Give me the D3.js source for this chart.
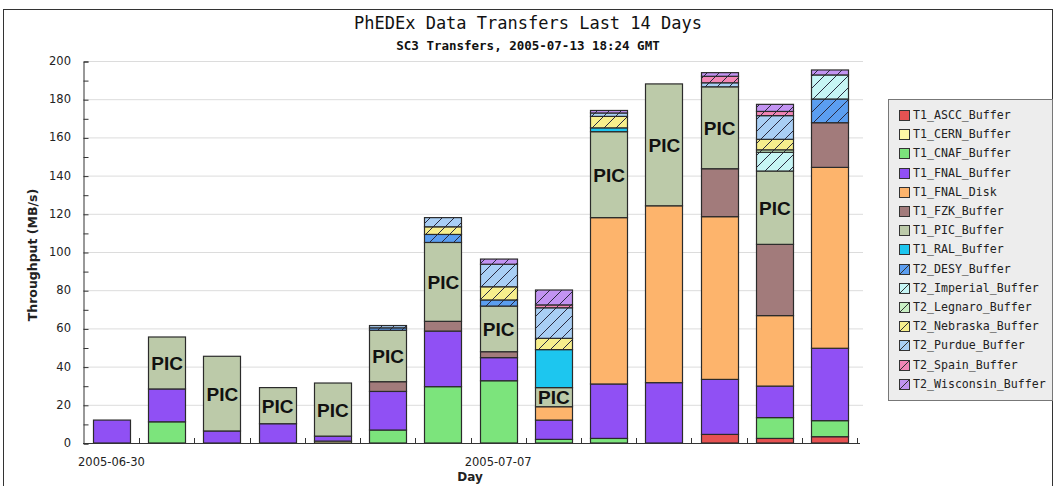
<!DOCTYPE html>
<html>
<head>
<meta charset="utf-8">
<script src="https://cdn.jsdelivr.net/npm/d3@7"></script>
<style>
  body { margin: 0; background: #fff; }
  svg { display: block; }
</style>
</head>
<body>
<svg id="chart"></svg>
<script>
// days shown on the x axis (one bar per day)
const days = ["2005-06-30", "2005-07-01", "2005-07-02", "2005-07-03", "2005-07-04", "2005-07-05", "2005-07-06",
    "2005-07-07", "2005-07-08", "2005-07-09", "2005-07-10", "2005-07-11", "2005-07-12", "2005-07-13"];
const dayLabels = ["2005-06-30", "2005-07-07"];

// throughput per node (MB/s), stacked bottom to top in this order
const nodes = ["T1_ASCC_Buffer", "T1_CERN_Buffer", "T1_CNAF_Buffer", "T1_FNAL_Buffer", "T1_FNAL_Disk",
    "T1_FZK_Buffer", "T1_PIC_Buffer", "T1_RAL_Buffer", "T2_DESY_Buffer", "T2_Imperial_Buffer",
    "T2_Legnaro_Buffer", "T2_Nebraska_Buffer", "T2_Purdue_Buffer", "T2_Spain_Buffer", "T2_Wisconsin_Buffer"];

const asccBuffer      = [0, 0, 0, 0, 0, 0, 0, 0, 0, 0, 0, 4.5, 2.4, 3.3];
const cernBuffer      = [0, 0, 0, 0, 1.0, 0, 0, 0, 0, 0, 0, 0, 0, 0];
const cnafBuffer      = [0, 11.1, 0, 0, 0, 6.8, 29.5, 32.6, 1.9, 2.4, 0, 0, 10.9, 8.4];
const fnalBuffer      = [12, 17.2, 6.3, 10.1, 2.6, 20.2, 29.1, 12.1, 10.1, 28.5, 31.6, 28.8, 16.5, 37.9];
const fnalDisk        = [0, 0, 0, 0, 0, 0, 0, 0, 7, 87.1, 92.6, 85.2, 36.9, 94.7];
const fzkBuffer       = [0, 0, 0, 0, 0, 5.1, 5.1, 3.1, 0, 0, 0, 25.1, 37.3, 23.4];
const picBuffer       = [0, 27.2, 39.1, 18.9, 27.8, 26.9, 41.3, 23.9, 10, 45, 63.8, 42.9, 38.4, 0];
const ralBuffer       = [0, 0, 0, 0, 0, 0, 0, 0, 19.9, 2, 0, 0, 0, 0];
const desyBuffer      = [0, 0, 0, 0, 0, 1.3, 4.2, 3.2, 0, 0, 0, 0, 0, 12.4];
const imperialBuffer  = [0, 0, 0, 0, 0, 0, 0, 0, 0, 0, 0, 0, 9.8, 12.6];
const legnaroBuffer   = [0, 0, 0, 0, 0, 0, 0, 0, 0, 0, 0, 0, 1.3, 0];
const nebraskaBuffer  = [0, 0, 0, 0, 0, 0, 4, 6.9, 5.9, 6, 0, 0, 5.5, 0];
const purdueBuffer    = [0, 0, 0, 0, 0, 1.2, 4.8, 11.8, 16, 1.8, 0, 2.1, 12.4, 0];
const spainBuffer     = [0, 0, 0, 0, 0, 0, 0, 0, 1.5, 0, 0, 3.4, 2.2, 0];
const wisconsinBuffer = [0, 0, 0, 0, 0, 0, 0, 2.7, 7.8, 1.3, 0, 1.9, 3.7, 2.6];

const seriesValues = [asccBuffer, cernBuffer, cnafBuffer, fnalBuffer, fnalDisk, fzkBuffer, picBuffer, ralBuffer,
    desyBuffer, imperialBuffer, legnaroBuffer, nebraskaBuffer, purdueBuffer, spainBuffer, wisconsinBuffer];

const yTicks = [0, 20, 40, 60, 80, 100, 120, 140, 160, 180, 200];

const colors = ["#e65252", "#fff8a6", "#7ce47c", "#9050f4", "#fdb46c", "#a27b7b", "#bccaa9", "#1dc6ef",
    "#5b9ef0", "#c6f5f5", "#c9efc4", "#f7ef8c", "#a9cff5", "#f286b5", "#c293f2"];

const W = 1056, H = 486;
const plot = { left: 83, right: 858, top: 61, bottom: 443 };

const svg = d3.select("#chart").attr("width", W).attr("height", H);

// hatch patterns for the T2 sites
const defs = svg.append("defs");
nodes.forEach((n, i) => {
    if (!n.startsWith("T2")) return;
    const p = defs.append("pattern")
        .attr("id", "hatch" + i)
        .attr("patternUnits", "userSpaceOnUse")
        .attr("width", 12).attr("height", 12);
    p.append("rect").attr("width", 12).attr("height", 12).attr("fill", colors[i]);
    p.append("path")
        .attr("d", "M0,12 L12,0 M-3,3 L3,-3 M9,15 L15,9")
        .attr("stroke", "#2a2a40").attr("stroke-width", 1);
});
const fillOf = i => nodes[i].startsWith("T2") ? `url(#hatch${i})` : colors[i];

// outer frame
svg.append("rect")
    .attr("x", 3.5).attr("y", 9.5).attr("width", 1049).attr("height", 490)
    .attr("fill", "none").attr("stroke", "#333");

svg.append("text")
    .attr("x", 528).attr("y", 29)
    .attr("text-anchor", "middle")
    .attr("font-family", "DejaVu Sans Mono")
    .attr("font-size", "17px")
    .attr("fill", "#111")
    .text("PhEDEx Data Transfers Last 14 Days");

svg.append("text")
    .attr("x", 528).attr("y", 50)
    .attr("text-anchor", "middle")
    .attr("font-family", "DejaVu Sans Mono")
    .attr("font-weight", "bold")
    .attr("font-size", "12.5px")
    .attr("fill", "#111")
    .text("SC3 Transfers, 2005-07-13 18:24 GMT");

const x = d3.scaleBand()
    .domain(days)
    .range([plot.left, plot.right])
    .paddingInner(0.33)
    .paddingOuter(0.18);

const y = d3.scaleLinear()
    .domain([0, 200])
    .range([plot.bottom, plot.top]);

// gridlines
svg.append("g")
    .selectAll("line")
    .data(yTicks.filter(t => t > 0))
    .enter()
    .append("line")
    .attr("x1", plot.left).attr("x2", 863)
    .attr("y1", t => y(t) + 0.5).attr("y2", t => y(t) + 0.5)
    .attr("stroke", "#dcdcdc");

// y axis, minor ticks every 10
const yAxis = svg.append("g")
    .attr("transform", `translate(${plot.left + 0.5},0.5)`)
    .call(d3.axisRight(y).tickValues(d3.range(0, 201, 10)).tickSize(5).tickFormat(""));
yAxis.select(".domain").attr("stroke", "#333");
yAxis.selectAll("line").attr("stroke", "#333");

svg.append("g")
    .selectAll("text")
    .data(yTicks)
    .enter()
    .append("text")
    .attr("x", plot.left - 12)
    .attr("y", t => y(t) + 4)
    .attr("text-anchor", "end")
    .attr("font-family", "DejaVu Sans")
    .attr("font-size", "11.5px")
    .attr("fill", "#222")
    .text(t => t);

svg.append("text")
    .attr("transform", `translate(37, 255) rotate(-90)`)
    .attr("text-anchor", "middle")
    .attr("font-family", "DejaVu Sans")
    .attr("font-weight", "bold")
    .attr("font-size", "12.5px")
    .attr("fill", "#222")
    .text("Throughput (MB/s)");

// stacked bars
const table = days.map((d, j) => {
    const row = { day: d };
    nodes.forEach((n, i) => { row[n] = seriesValues[i][j]; });
    return row;
});
const stacked = d3.stack().keys(nodes)(table);

svg.append("g")
    .selectAll("g")
    .data(stacked)
    .enter()
    .append("g")
    .attr("fill", (s, i) => fillOf(i))
    .selectAll("rect")
    .data(s => s.filter(d => d[1] - d[0] > 0))
    .enter()
    .append("rect")
    .attr("x", d => Math.round(x(d.data.day)) + 0.5)
    .attr("width", Math.round(x.bandwidth()))
    .attr("y", d => y(d[1]))
    .attr("height", d => y(d[0]) - y(d[1]))
    .attr("stroke", "#2b2b2b")
    .attr("stroke-width", 1.2);

// PIC labels in the middle of each PIC segment
const picLayer = stacked[nodes.indexOf("T1_PIC_Buffer")];
svg.append("g")
    .selectAll("text")
    .data(picLayer.filter(d => d[1] - d[0] > 0))
    .enter()
    .append("text")
    .attr("x", d => x(d.data.day) + x.bandwidth() / 2 + 0.5)
    .attr("y", d => y((d[0] + d[1]) / 2) + 7)
    .attr("text-anchor", "middle")
    .attr("font-family", "Liberation Sans, Arial, sans-serif")
    .attr("font-weight", "bold")
    .attr("font-size", "19px")
    .attr("fill", "#111")
    .text("PIC");

// x axis with ticks between the days
svg.append("line")
    .attr("x1", plot.left).attr("x2", 860)
    .attr("y1", plot.bottom + 0.5).attr("y2", plot.bottom + 0.5)
    .attr("stroke", "#333");

const step = x.step();
svg.append("g")
    .selectAll("line")
    .data(days)
    .enter()
    .append("line")
    .attr("x1", d => Math.round(x(d) + x.bandwidth() + (step - x.bandwidth()) / 2) + 0.5)
    .attr("x2", d => Math.round(x(d) + x.bandwidth() + (step - x.bandwidth()) / 2) + 0.5)
    .attr("y1", plot.bottom - 5).attr("y2", plot.bottom)
    .attr("stroke", "#333");

svg.append("g")
    .selectAll("text")
    .data(dayLabels)
    .enter()
    .append("text")
    .attr("x", d => x(d) + x.bandwidth() / 2)
    .attr("y", 466)
    .attr("text-anchor", "middle")
    .attr("font-family", "DejaVu Sans")
    .attr("font-size", "11.5px")
    .attr("fill", "#222")
    .text(d => d);

svg.append("text")
    .attr("x", 470).attr("y", 481)
    .attr("text-anchor", "middle")
    .attr("font-family", "DejaVu Sans")
    .attr("font-weight", "bold")
    .attr("font-size", "12px")
    .attr("fill", "#222")
    .text("Day");

// legend
const legend = svg.append("g");
legend.append("rect")
    .attr("x", 888.5).attr("y", 99.5).attr("width", 164).attr("height", 301)
    .attr("fill", "#ededed").attr("stroke", "#777");

const rowY = i => 115 + i * 19.2;
const items = legend.selectAll("g.item")
    .data(nodes)
    .enter()
    .append("g")
    .attr("class", "item");

items.append("rect")
    .attr("x", 899.5).attr("y", (n, i) => Math.round(rowY(i) - 5) + 0.5)
    .attr("width", 10).attr("height", 10)
    .attr("fill", (n, i) => colors[i])
    .attr("stroke", "#333");

items.filter(n => n.startsWith("T2"))
    .append("line")
    .attr("x1", 900).attr("x2", 909)
    .attr("y1", (n, i) => Math.round(rowY(i + 8) - 5) + 10)
    .attr("y2", (n, i) => Math.round(rowY(i + 8) - 5) + 1)
    .attr("stroke", "#333");

items.append("text")
    .attr("x", 913)
    .attr("y", (n, i) => rowY(i) + 4)
    .attr("font-family", "DejaVu Sans Mono")
    .attr("font-size", "11.6px")
    .attr("fill", "#222")
    .text(n => n);
</script>
</body>
</html>
